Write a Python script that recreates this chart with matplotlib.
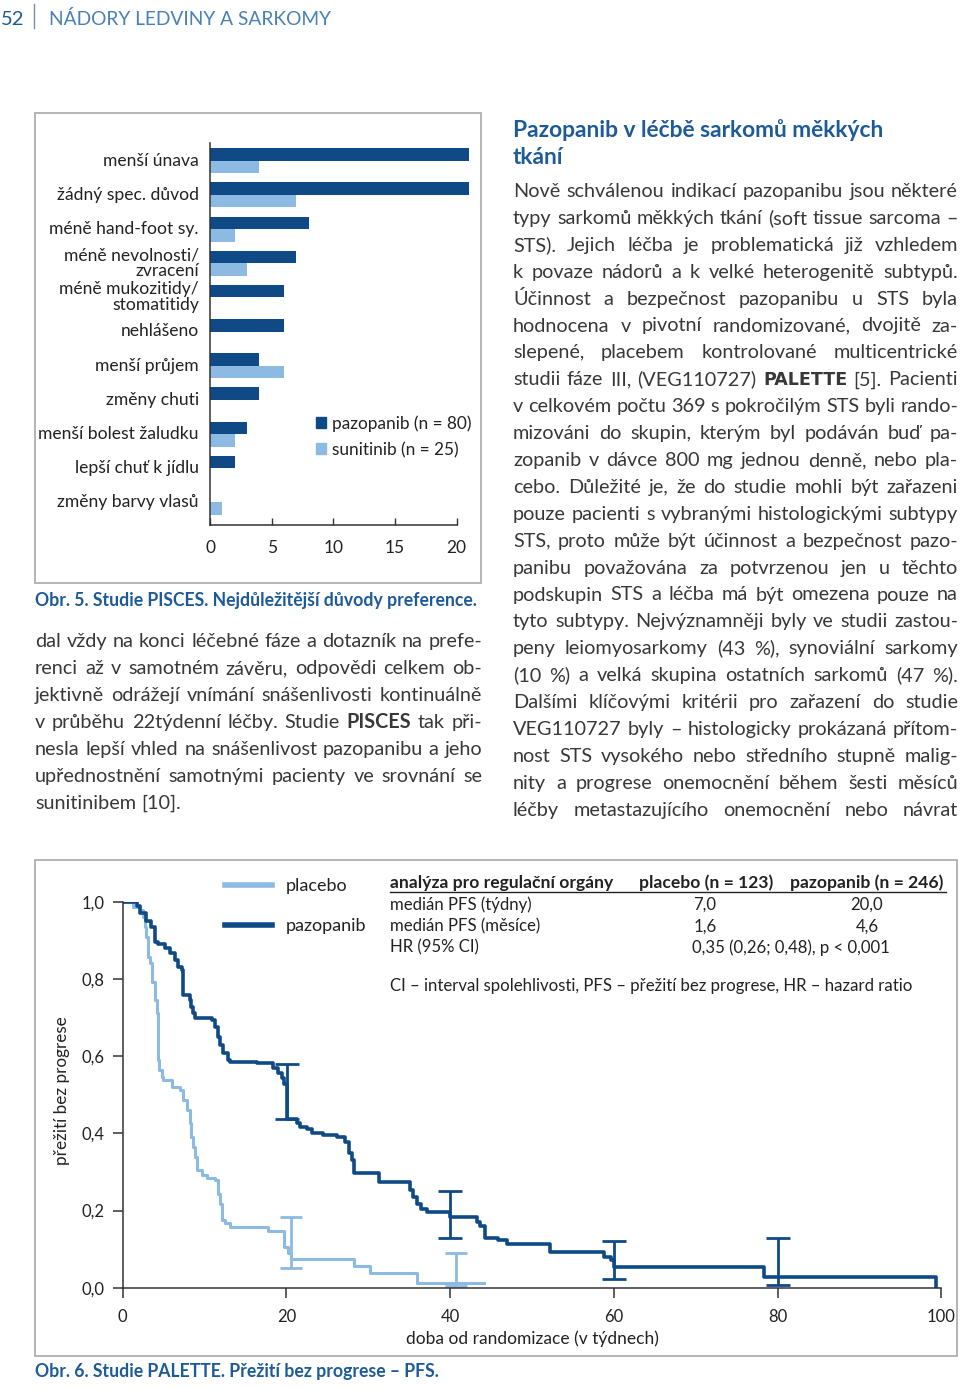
import matplotlib
matplotlib.use('Agg')
import matplotlib.pyplot as plt
from matplotlib.patches import Rectangle, Patch
from matplotlib.lines import Line2D

plt.rcParams['font.family'] = ['Lato', 'DejaVu Sans']

# --- bar chart data (Obr. 5) ---
categories = ['menší únava', 'žádný spec. důvod', 'méně hand-foot sy.',
              'méně nevolnosti/\nzvracení', 'méně mukozitidy/\nstomatitidy',
              'nehlášeno', 'menší průjem', 'změny chuti',
              'menší bolest žaludku', 'lepší chuť k jídlu', 'změny barvy vlasů']
pazopanib_vals = [21, 21, 8, 7, 6, 6, 4, 4, 3, 2, 0]
sunitinib_vals = [4, 7, 2, 3, 0, 0, 6, 0, 2, 0, 1]
bar_xticks = [0, 5, 10, 15, 20]
bar_legend = ['pazopanib (n = 80)', 'sunitinib (n = 25)']

# --- Kaplan-Meier data (Obr. 6) ---
paz_weeks = [0, 1.7, 2.1, 2.9, 3.5, 3.9, 4.3, 5.2, 5.8, 6.4, 6.8, 7.2, 7.4,
             8.2, 8.4, 8.6, 8.8, 10.9, 11.3, 11.7, 11.9, 12.3, 12.9, 13.1,
             16.4, 18.4, 19.0, 19.4, 19.7, 20.05, 21.3, 21.7, 22.5, 23.1,
             24.5, 26.2, 27.2, 27.6, 28.0, 28.2, 31.3, 35.1, 35.5, 35.9,
             36.5, 37.2, 40.0, 43.3, 43.7, 44.3, 45.8, 47.0, 52.2, 58.8,
             59.6, 60.0, 78.3, 99.3]
paz_surv = [1.0, 0.99, 0.97, 0.95, 0.935, 0.896, 0.89, 0.879, 0.866, 0.849,
            0.832, 0.823, 0.758, 0.745, 0.728, 0.711, 0.70, 0.693, 0.676,
            0.65, 0.629, 0.607, 0.59, 0.585, 0.581, 0.568, 0.555, 0.542,
            0.529, 0.436, 0.426, 0.417, 0.41, 0.40, 0.395, 0.391, 0.378,
            0.348, 0.33, 0.296, 0.275, 0.253, 0.236, 0.218, 0.205, 0.197,
            0.182, 0.17, 0.159, 0.13, 0.123, 0.114, 0.093, 0.080, 0.072,
            0.054, 0.0285, 0.0]
pla_weeks = [0, 1.3, 2.1, 2.5, 2.7, 2.9, 3.1, 3.3, 3.55, 3.95, 4.16, 4.28,
             4.36, 4.48, 4.77, 4.97, 6.0, 7.0, 7.4, 7.8, 8.2, 8.4, 8.6, 8.8,
             9.05, 9.7, 10.3, 11.3, 11.7, 11.9, 12.1, 12.5, 13.1, 17.8, 19.7,
             20.25, 20.6, 28.3, 30.2, 35.9, 44.1]
pla_surv = [1.0, 0.987, 0.978, 0.961, 0.935, 0.909, 0.858, 0.84, 0.793,
            0.745, 0.711, 0.65, 0.59, 0.564, 0.547, 0.538, 0.52, 0.512,
            0.486, 0.46, 0.426, 0.391, 0.365, 0.339, 0.305, 0.292, 0.283,
            0.279, 0.244, 0.218, 0.175, 0.167, 0.157, 0.148, 0.106, 0.089,
            0.074, 0.055, 0.038, 0.013, 0.013]
paz_ci_weeks = [20.05, 40.0, 60.0, 80.0]
paz_ci_low = [0.436, 0.13, 0.022, 0.007]
paz_ci_high = [0.579, 0.251, 0.121, 0.13]
pla_ci_weeks = [20.6, 40.7]
pla_ci_low = [0.052, 0.004]
pla_ci_high = [0.183, 0.089]
km_xticks = [0, 20, 40, 60, 80, 100]
km_yticks = [0.0, 0.2, 0.4, 0.6, 0.8, 1.0]
km_yticklabels = ['0,0', '0,2', '0,4', '0,6', '0,8', '1,0']

table_cols = ['analýza pro regulační orgány', 'placebo (n = 123)', 'pazopanib (n = 246)']
table_rows = [['medián PFS (týdny)', '7,0', '20,0'],
              ['medián PFS (měsíce)', '1,6', '4,6'],
              ['HR (95% CI)', '0,35 (0,26; 0,48), p < 0,001', '']]
table_note = 'CI – interval spolehlivosti, PFS – přežití bez progrese, HR – hazard ratio'

# --- page text ---
left_lines = ['dal vždy na konci léčebné fáze a dotazník na prefe-',
              'renci až v samotném závěru, odpovědi celkem ob-',
              'jektivně odrážejí vnímání snášenlivosti kontinuálně',
              'v průběhu 22týdenní léčby. Studie PISCES tak při-',
              'nesla lepší vhled na snášenlivost pazopanibu a jeho',
              'upřednostnění samotnými pacienty ve srovnání se',
              'sunitinibem [10].']
right_title = ['Pazopanib v léčbě sarkomů měkkých', 'tkání']
right_lines = ['Nově schválenou indikací pazopanibu jsou některé',
               'typy sarkomů měkkých tkání (soft tissue sarcoma –',
               'STS). Jejich léčba je problematická již vzhledem',
               'k povaze nádorů a k velké heterogenitě subtypů.',
               'Účinnost a bezpečnost pazopanibu u STS byla',
               'hodnocena v pivotní randomizované, dvojitě za-',
               'slepené, placebem kontrolované multicentrické',
               'studii fáze III, (VEG110727) PALETTE [5]. Pacienti',
               'v celkovém počtu 369 s pokročilým STS byli rando-',
               'mizováni do skupin, kterým byl podáván buď pa-',
               'zopanib v dávce 800 mg jednou denně, nebo pla-',
               'cebo. Důležité je, že do studie mohli být zařazeni',
               'pouze pacienti s vybranými histologickými subtypy',
               'STS, proto může být účinnost a bezpečnost pazo-',
               'panibu považována za potvrzenou jen u těchto',
               'podskupin STS a léčba má být omezena pouze na',
               'tyto subtypy. Nejvýznamněji byly ve studii zastou-',
               'peny leiomyosarkomy (43 %), synoviální sarkomy',
               '(10 %) a velká skupina ostatních sarkomů (47 %).',
               'Dalšími klíčovými kritérii pro zařazení do studie',
               'VEG110727 byly – histologicky prokázaná přítom-',
               'nost STS vysokého nebo středního stupně malig-',
               'nity a progrese onemocnění během šesti měsíců',
               'léčby metastazujícího onemocnění nebo návrat']

dark = '#0f4a86'
light = '#8cbae3'
blue_text = '#1d5b98'
body = '#383838'
W, H = 960, 1389

fig = plt.figure(figsize=(W / 100, H / 100), dpi=100)
renderer = fig.canvas.get_renderer()


def box(l, t, r, b):
    return [l / W, 1 - b / H, (r - l) / W, (b - t) / H]


page = fig.add_axes([0, 0, 1, 1])
page.set_xlim(0, W)
page.set_ylim(H, 0)
page.axis('off')

# header
page.text(1, 25, '52', fontsize=14.5, color=blue_text, va='baseline')
page.plot([34, 34], [4, 28], color='#6b8fb8', lw=1)
page.text(49, 25, 'NÁDORY LEDVINY A SARKOMY', fontsize=13.8,
          color='#4880b8', va='baseline')

# frames
page.add_patch(Rectangle((35, 113), 446, 470, fill=False, ec='#b4b4b4', lw=1.4))
page.add_patch(Rectangle((35, 860), 922, 496, fill=False, ec='#b4b4b4', lw=1.4))

# captions
page.text(35, 606, 'Obr. 5. Studie PISCES. Nejdůležitější důvody preference.',
          fontsize=12.7, fontweight='bold', color=blue_text, va='baseline')
page.text(35, 1377, 'Obr. 6. Studie PALETTE. Přežití bez progrese – PFS.',
          fontsize=12.7, fontweight='bold', color=blue_text, va='baseline')

# right column title
for i, s in enumerate(right_title):
    page.text(513, 137 + 27 * i, s, fontsize=16.4, fontweight='bold',
              color=blue_text, va='baseline')

BODY_SIZE = 14.3


def put_line(line, x0, x1, y, justify=True):
    words = line.split(' ')
    items = []
    for w in words:
        kw = dict(fontsize=BODY_SIZE, color=body, va='baseline', ha='left')
        if w == 'PISCES':
            kw['fontweight'] = 'bold'
        if w == 'PALETTE':
            kw['fontweight'] = 'bold'
            kw['family'] = 'DejaVu Sans'
            kw['fontsize'] = BODY_SIZE * 0.88
        items.append(page.text(x0, y, w, **kw))
    widths = [t.get_window_extent(renderer).width for t in items]
    if justify and len(items) > 1:
        gap = (x1 - x0 - sum(widths)) / (len(items) - 1)
    else:
        gap = BODY_SIZE * 0.25 * 100 / 72
    x = x0
    for t, w in zip(items, widths):
        t.set_x(x)
        x += w + gap


for i, line in enumerate(left_lines):
    put_line(line, 35, 482, 647 + 27 * i, justify=(i < len(left_lines) - 1))
for i, line in enumerate(right_lines):
    put_line(line, 513, 958, 197 + 26.9 * i)

# --- bar chart ---
ax = fig.add_axes(box(210, 143, 456.7, 525))
ax.set_facecolor('none')
n = len(categories)
pos = list(range(n))
h = 12.5 / 34.17
b1 = ax.barh([p - h / 2 for p in pos], pazopanib_vals, height=h, color=dark)
b2 = ax.barh([p + h / 2 for p in pos], sunitinib_vals, height=h, color=light)
for p in list(b1) + list(b2):
    p.set_clip_on(False)
ax.set_xlim(0, 20)
ax.set_ylim(10.66, -0.52)
ax.set_xticks(bar_xticks)
ax.set_xticklabels([str(v) for v in bar_xticks])
ax.set_yticks([p - 0.05 for p in pos])
ax.set_yticklabels(categories, linespacing=1.0)
ax.tick_params(axis='x', direction='in', length=5, width=1, pad=11,
               labelsize=12.5, colors='#333', labelcolor='#222')
ax.tick_params(axis='y', length=0, pad=8, labelsize=12.6, labelcolor='#222')
for s in ['top', 'right']:
    ax.spines[s].set_visible(False)
for s in ['left', 'bottom']:
    ax.spines[s].set_color('#333')
    ax.spines[s].set_linewidth(1.1)
handles = [Patch(color=dark), Patch(color=light)]
ax.legend(handles, bar_legend, loc='upper left', frameon=False,
          bbox_to_anchor=(316 / W, 1 - 415 / H), bbox_transform=fig.transFigure,
          fontsize=12.4, handlelength=0.6, handleheight=0.6, handletextpad=0.35,
          labelspacing=0.6, borderpad=0, borderaxespad=0, labelcolor='#222')

# --- Kaplan-Meier ---
km = fig.add_axes(box(122.7, 901.7, 941.3, 1287.7))
km.set_facecolor('none')
km.step(pla_weeks, pla_surv, where='post', color=light, lw=2.2, label='placebo')
km.step(paz_weeks, paz_surv, where='post', color=dark, lw=2.6, label='pazopanib')
pla_mid = [(a + b) / 2 for a, b in zip(pla_ci_low, pla_ci_high)]
pla_err = [(b - a) / 2 for a, b in zip(pla_ci_low, pla_ci_high)]
km.errorbar(pla_ci_weeks, pla_mid, yerr=pla_err, fmt='none', ecolor=light,
            elinewidth=2, capsize=8, capthick=2)
paz_mid = [(a + b) / 2 for a, b in zip(paz_ci_low, paz_ci_high)]
paz_err = [(b - a) / 2 for a, b in zip(paz_ci_low, paz_ci_high)]
km.errorbar(paz_ci_weeks, paz_mid, yerr=paz_err, fmt='none', ecolor=dark,
            elinewidth=2, capsize=8.5, capthick=2)
km.set_xlim(0, 100)
km.set_ylim(0, 1)
km.set_xticks(km_xticks)
km.set_xticklabels([str(v) for v in km_xticks])
km.set_yticks(km_yticks)
km.set_yticklabels(km_yticklabels)
km.tick_params(direction='out', length=7, width=1.1, pad=6, labelsize=12,
               colors='#333', labelcolor='#222')
km.tick_params(axis='x', pad=8.5)
for s in ['top', 'right']:
    km.spines[s].set_visible(False)
for s in ['left', 'bottom']:
    km.spines[s].set_color('#333')
    km.spines[s].set_linewidth(1.1)
km.set_ylabel('přežití bez progrese', fontsize=12.3, color='#222')
km.yaxis.set_label_coords(-0.064, (1287.7 - 1091) / 386)
km.set_xlabel('doba od randomizace (v týdnech)', fontsize=12.5, color='#222')
km.xaxis.set_label_coords(0.5, -0.112)
km.legend(handles=[Line2D([], [], color=light, lw=4), Line2D([], [], color=dark, lw=4)],
          labels=['placebo', 'pazopanib'], loc='upper left', frameon=False,
          bbox_to_anchor=(225 / W, 1 - 878 / H), bbox_transform=fig.transFigure,
          fontsize=13, handlelength=2.6, handletextpad=0.75, labelspacing=1.35,
          borderpad=0, borderaxespad=0, labelcolor='#222')

# table
tsize = 12.1
col_x = [390, 639, 790]
for x, s in zip(col_x, table_cols):
    page.text(x, 888, s, fontsize=12.6, fontweight='bold', color='#222', va='baseline')
page.plot([390, 946], [892, 892], color='#222', lw=1)
for i, row in enumerate(table_rows):
    y = 910 + 21.3 * i
    page.text(390, y, row[0], fontsize=tsize, color='#222', va='baseline')
    if row[2]:
        page.text(705, y, row[1], fontsize=tsize, color='#222', va='baseline', ha='center')
        page.text(867, y, row[2], fontsize=tsize, color='#222', va='baseline', ha='center')
    else:
        page.text(692, y, row[1], fontsize=tsize, color='#222', va='baseline')
page.text(390, 991, table_note, fontsize=tsize, color='#222', va='baseline')

fig.savefig('out.png', dpi=100)
